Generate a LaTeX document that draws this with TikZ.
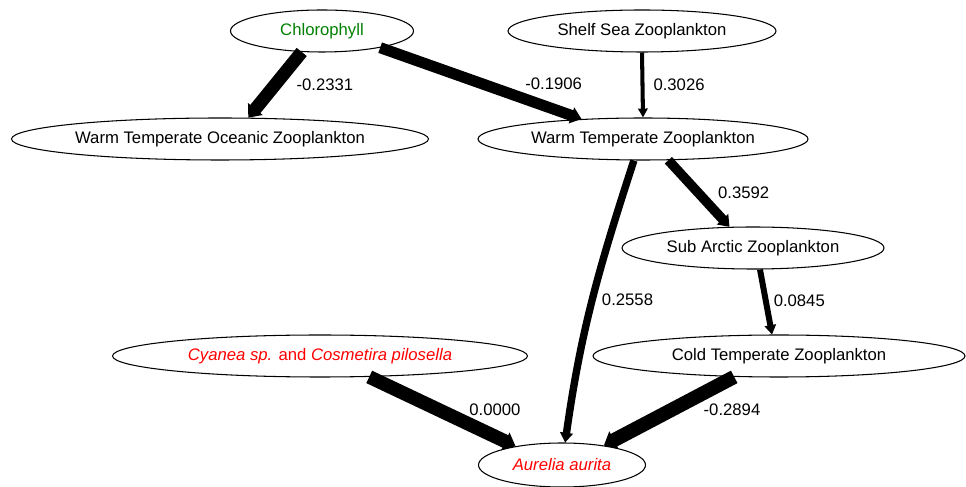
\documentclass[tikz,border=0pt]{standalone}
\usepackage{fontspec}
\setmainfont{Liberation Sans}
\usepackage{xcolor}
\usetikzlibrary{arrows.meta,shapes.geometric}
\definecolor{chlgreen}{RGB}{0,128,0}

\begin{document}
\begin{tikzpicture}[
    taxon/.style={draw,ellipse,line width=0.6pt,inner sep=0pt,minimum height=0.84cm,font=\fontsize{9.5}{11}\selectfont},
    coef/.style={anchor=west,inner sep=0pt,font=\fontsize{9.5}{11}\selectfont},
    link/.style={-{Triangle[length=4.5pt 0.25,width=3pt 1]}}
  ]
    \useasboundingbox (0,0) rectangle (19.32,-9.74);

    % Taxa and drivers
    \node[taxon,minimum width=3.66cm,text=chlgreen] (chl) at (6.44,-0.62) {Chlorophyll};
    \node[taxon,minimum width=5.36cm] (shelf) at (12.84,-0.62) {Shelf Sea Zooplankton};
    \node[taxon,minimum width=8.34cm] (wto) at (4.40,-2.78) {Warm Temperate Oceanic Zooplankton};
    \node[taxon,minimum width=6.60cm] (wt) at (12.86,-2.78) {Warm Temperate Zooplankton};
    \node[taxon,minimum width=5.24cm] (sa) at (15.06,-4.96) {Sub Arctic Zooplankton};
    \node[taxon,minimum width=7.44cm] (ct) at (15.58,-7.12) {Cold Temperate Zooplankton};
    \node[taxon,minimum width=8.30cm,text=red] (cy) at (6.40,-7.12) {\textit{Cyanea sp.} and \textit{Cosmetira pilosella}};
    \node[taxon,minimum width=3.34cm,minimum height=0.88cm,text=red] (au) at (11.24,-9.30) {\textit{Aurelia aurita}};

    % Path coefficients
    \draw[link,line width=7.4pt] (chl.226) -- node[coef,pos=0.5,xshift=0.3cm] {-0.2331} (wto.37);
    \draw[link,line width=6.3pt] (chl.-16) -- node[coef,pos=0.51,xshift=0.74cm] {-0.1906} (wt.162);
    \draw[link,line width=2.3pt] (shelf.south) -- node[coef,pos=0.5,xshift=0.18cm] {0.3026} (wt.north);
    \draw[link,line width=5.5pt] (wt.-40) -- node[coef,pos=0.49,xshift=0.3cm] {0.3592} (sa.138);
    \draw[link,line width=4.2pt] (wt.247) to[out=252,in=82] node[coef,pos=0.5,xshift=0.12cm] {0.2558} (au.82);
    \draw[link,line width=3.4pt] (sa.-72) -- node[coef,pos=0.48,xshift=0.1cm] {0.0845} (ct.108);
    \draw[link,line width=7.8pt] (cy.-23) -- node[coef,pos=0.48,xshift=0.46cm] {0.0000} (au.158);
    \draw[link,line width=8pt] (ct.205) -- node[coef,pos=0.48,xshift=0.5cm] {-0.2894} (au.25);
  \end{tikzpicture}
\end{document}
